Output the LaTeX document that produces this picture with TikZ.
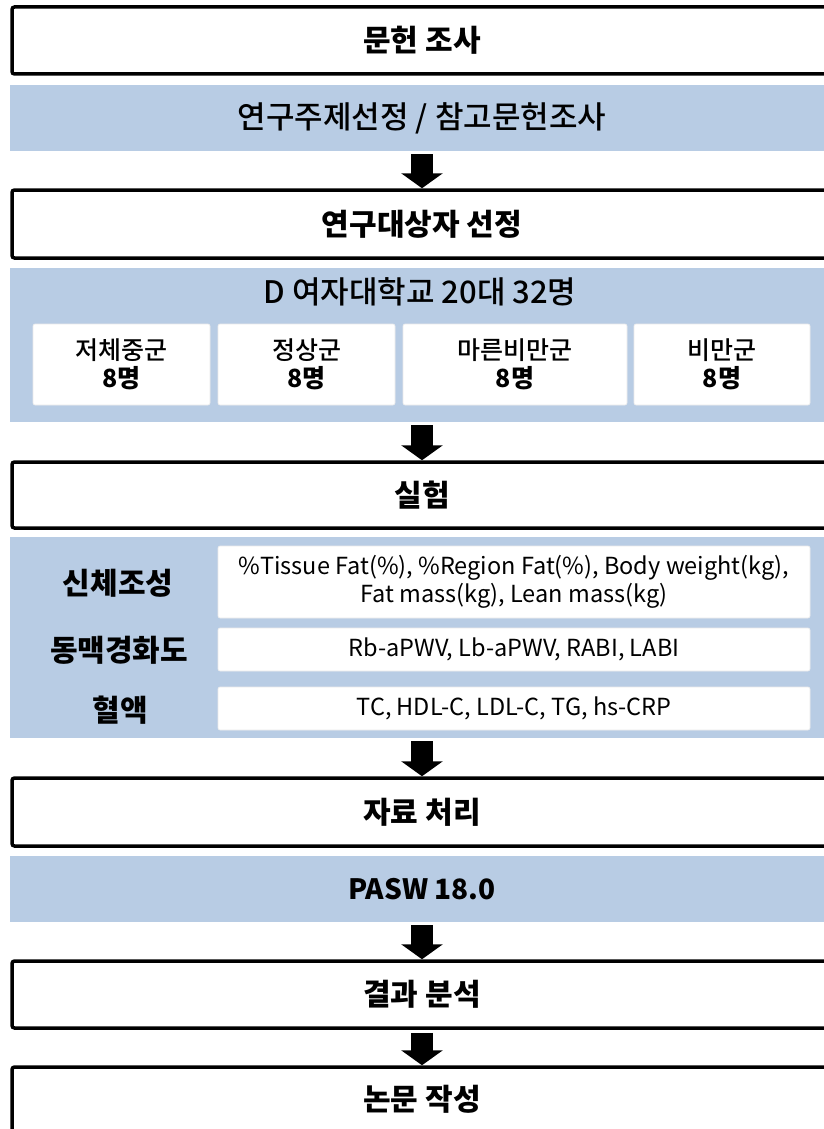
\documentclass[tikz,border=0pt]{standalone}
\usepackage{fontspec}
\setmainfont{Noto Sans CJK KR}
\newfontfamily\medkr{Noto Sans CJK KR Medium}
\usetikzlibrary{arrows.meta}
\definecolor{bandblue}{RGB}{184,204,228}
\begin{document}
\begin{tikzpicture}[x=1pt,y=-1pt,
  stage/.style={draw=black, line width=3.5pt, rounded corners=2.5pt, fill=white,
    minimum width=820pt, inner sep=0pt, font=\fontsize{30}{34}\selectfont\bfseries},
  band/.style={fill=bandblue, minimum width=824pt, inner sep=0pt,
    font=\medkr\fontsize{31}{34}\selectfont},
  cell/.style={fill=white, draw=black!8, line width=0.6pt, rounded corners=2pt,
    inner sep=0pt, align=center},
  grp/.style={cell, minimum height=81pt, font=\fontsize{25}{28}\selectfont},
  meas/.style={cell, minimum width=592pt, font=\fontsize{23.5}{28}\selectfont},
  lab/.style={font=\fontsize{30}{34}\selectfont\bfseries},
  flow/.style={line width=22pt, -{Triangle[width=41pt,length=15pt]}}]
\useasboundingbox (0,0) rectangle (824,1129);

% stage 1
\node[stage, minimum height=67pt] (s1) at (422,40.5) {문헌 조사};
\node[band, minimum height=66pt] (b1) at (422,118) {연구주제선정 / 참고문헌조사};

% stage 2
\node[stage, minimum height=68pt] (s2) at (422,224) {연구대상자 선정};
\node[band, minimum height=154pt] (b2) at (422,345) {};
\node[font=\medkr\fontsize{31}{34}\selectfont, inner sep=0pt] (t2) at (420,292) {D 여자대학교 20대 32명};
\node[grp, minimum width=177pt] (g1) at (121.5,364.5) {{\medkr 저체중군}\\\textbf{8명}};
\node[grp, minimum width=177pt] (g2) at (306.5,364.5) {{\medkr 정상군}\\\textbf{8명}};
\node[grp, minimum width=224pt] (g3) at (515,364.5) {{\medkr 마른비만군}\\\textbf{8명}};
\node[grp, minimum width=176pt] (g4) at (722,364.5) {{\medkr 비만군}\\\textbf{8명}};

% stage 3
\node[stage, minimum height=66pt] (s3) at (422,495) {실험};
\node[band, minimum height=201pt] (b3) at (422,637.5) {};
\node[lab] (l1) at (118,583) {신체조성};
\node[lab] (l2) at (119,650) {동맥경화도};
\node[lab] (l3) at (120,710) {혈액};
\node[meas, minimum height=72pt] (m1) at (514,582) {\%Tissue Fat(\%), \%Region Fat(\%), Body weight(kg),\\Fat mass(kg), Lean mass(kg)};
\node[meas, minimum height=43pt] (m2) at (514,649.5) {Rb-aPWV, Lb-aPWV, RABI, LABI};
\node[meas, minimum height=43pt] (m3) at (514,708.5) {TC, HDL-C, LDL-C, TG, hs-CRP};

% stage 4
\node[stage, minimum height=68pt] (s4) at (422,812) {자료 처리};
\node[band, minimum height=66pt, font=\fontsize{28}{32}\selectfont\bfseries] (b4) at (422,889) {PASW 18.0};

% stage 5, 6
\node[stage, minimum height=67pt] (s5) at (422,994.5) {결과 분석};
\node[stage, minimum height=67pt, text depth=0pt] (s6) at (422,1100.5) {\raisebox{6pt}{논문 작성}};

% arrows
\draw[flow] ([yshift=-3pt]b1.south) -- (s2.north);
\draw[flow] ([yshift=-3pt]b2.south) -- (s3.north);
\draw[flow] ([yshift=-3pt]b3.south) -- (s4.north);
\draw[flow] ([yshift=-3pt]b4.south) -- (s5.north);
\draw[flow] ([yshift=-3pt]s5.south) -- (s6.north);
\end{tikzpicture}
\end{document}
